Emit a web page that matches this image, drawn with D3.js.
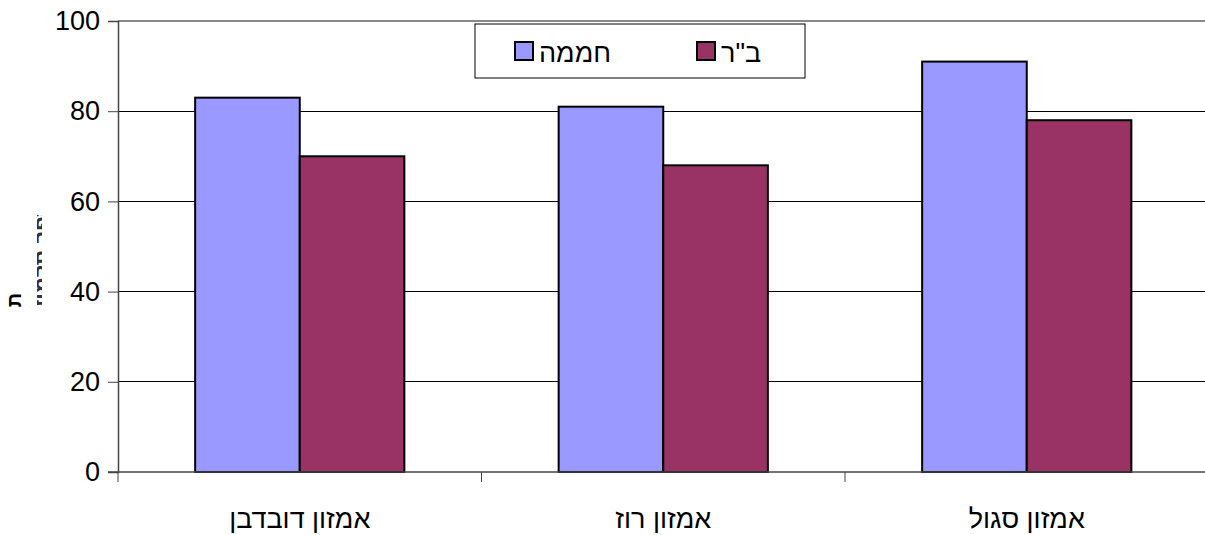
<!DOCTYPE html>
<html>
<head>
<meta charset="utf-8">
<script src="https://cdn.jsdelivr.net/npm/d3@7"></script>
<style>
  html, body { margin: 0; padding: 0; background: #fff; overflow: hidden; }
  text { font-family: "Liberation Sans", Arial, sans-serif; }
</style>
</head>
<body>
<script>
// Chart data
const categories = ["אמזון דובדבן", "אמזון רוז", "אמזון סגול"];
const seriesNames = ["חממה", "ב\"ר"];
const greenhouse = [83, 81, 91];
const field = [70, 68, 78];
const yTicks = [0, 20, 40, 60, 80, 100];

const colors = ["#9999ff", "#993366"];
const width = 1205, height = 535;
const margin = { left: 118, top: 21, bottom: 63 };
const plotW = 1090.5;

const svg = d3.select("body").append("svg")
    .attr("width", width)
    .attr("height", height);

const y = d3.scaleLinear().domain([0, 100]).range([height - margin.bottom, margin.top]);
const x = d3.scaleBand().domain(categories).range([margin.left, margin.left + plotW]);
const xs = d3.scaleBand().domain([0, 1]).range([0, x.bandwidth()]).paddingOuter(0.7375).paddingInner(0);

// Gridlines
svg.append("g")
    .selectAll("line")
    .data(yTicks.filter(d => d > 0))
    .enter()
    .append("line")
    .attr("x1", margin.left)
    .attr("x2", width)
    .attr("y1", d => y(d))
    .attr("y2", d => y(d))
    .style("stroke", d => d === 100 ? "#888" : "#000")
    .style("stroke-width", d => d === 100 ? 2 : 1)
    .attr("shape-rendering", "crispEdges");

// Bars
const rows = categories.map((c, i) => [greenhouse[i], field[i]].map((v, s) => ({ c, s, v })));
svg.append("g")
    .selectAll("g")
    .data(rows)
    .enter()
    .append("g")
    .selectAll("rect")
    .data(d => d)
    .enter()
    .append("rect")
    .attr("x", d => x(d.c) + xs(d.s))
    .attr("y", d => y(d.v))
    .attr("width", xs.bandwidth())
    .attr("height", d => y(0) - y(d.v))
    .attr("fill", d => colors[d.s])
    .attr("stroke", "#000")
    .attr("stroke-width", 2);

// Y axis
const yAxis = svg.append("g")
    .attr("transform", `translate(${margin.left},0)`)
    .call(d3.axisLeft(y).tickValues(yTicks).tickSize(10).tickPadding(8));
yAxis.select(".domain").attr("stroke", "#444").attr("stroke-width", 1.5);
yAxis.selectAll(".tick line").attr("stroke", "#444");
yAxis.selectAll("text")
    .style("font-family", "'Liberation Sans', Arial, sans-serif")
    .style("font-size", "27px")
    .attr("fill", "#000");

// X axis
const xAxis = svg.append("g")
    .attr("transform", `translate(0,${y(0)})`)
    .call(d3.axisBottom(x).tickSize(0).tickPadding(37));
xAxis.select(".domain").attr("stroke", "#444").attr("stroke-width", 1.5).attr("d", `M${margin.left - 10},0H${width}`);
xAxis.selectAll("text")
    .style("font-family", "'Liberation Sans', Arial, sans-serif")
    .style("font-size", "27px")
    .attr("fill", "#000");
xAxis.selectAll(".sep")
    .data(d3.range(categories.length + 1))
    .enter()
    .append("line")
    .attr("x1", i => margin.left + i * x.step())
    .attr("x2", i => margin.left + i * x.step())
    .attr("y1", 0)
    .attr("y2", 10)
    .attr("stroke", "#444");

// Clipped y-axis title (only a sliver is visible in the original)
svg.append("defs").append("clipPath").attr("id", "ttlclip")
    .append("rect").attr("x", 37).attr("y", 215).attr("width", 5).attr("height", 90);
svg.append("g")
    .attr("clip-path", "url(#ttlclip)")
    .append("text")
    .attr("transform", "translate(49,260) rotate(-90)")
    .attr("text-anchor", "middle")
    .style("font-size", "22px")
    .style("font-weight", "bold")
    .style("fill", "#333")
    .text("מספר תלמידים");
svg.append("text")
    .attr("transform", "translate(21,300) rotate(-90)")
    .attr("text-anchor", "middle")
    .style("font-size", "20px")
    .style("font-weight", "bold")
    .text("ת");

// Legend
const legend = svg.append("g").attr("transform", "translate(475,24)");
legend.append("rect")
    .attr("width", 330).attr("height", 54)
    .attr("fill", "#fff").attr("stroke", "#000").attr("stroke-width", 1);
const item = legend.selectAll(".item")
    .data(seriesNames)
    .enter()
    .append("g")
    .attr("transform", (d, i) => `translate(${40 + i * 182},0)`);
item.append("rect")
    .attr("y", 18).attr("width", 18).attr("height", 18)
    .attr("fill", (d, i) => colors[i])
    .attr("stroke", "#000").attr("stroke-width", 2);
item.append("text")
    .attr("x", 24).attr("y", 38)
    .style("font-size", "27px")
    .text(d => d);
</script>
</body>
</html>
